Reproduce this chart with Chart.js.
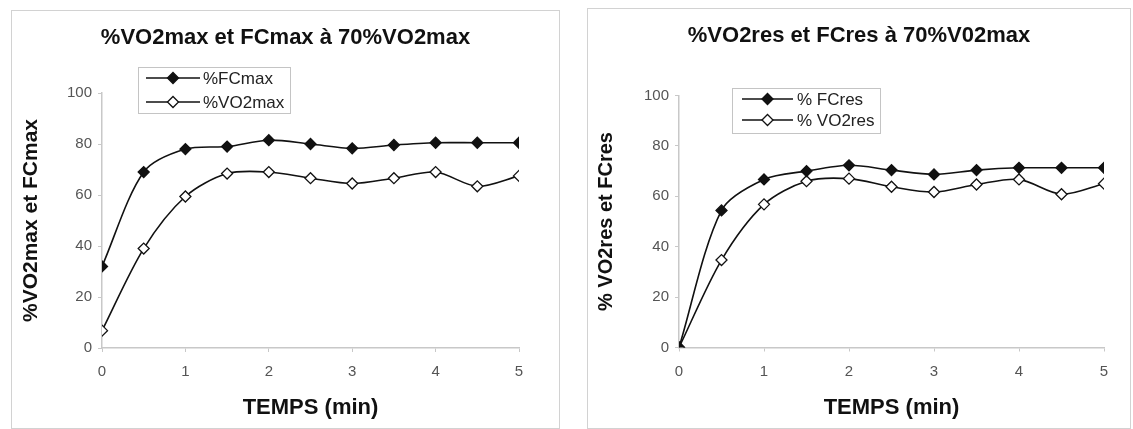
<!DOCTYPE html>
<html>
<head>
<meta charset="utf-8">
<script src="https://cdn.jsdelivr.net/npm/chart.js@4.4.0/dist/chart.umd.min.js"></script>
<style>
  body { margin: 0; background: #fff; width: 1133px; height: 429px; position: relative; overflow: hidden; }
  .frame { position: absolute; border: 1px solid #d2d2d2; box-sizing: border-box; background: #fff; }
  .frame canvas { display: block; }
</style>
</head>
<body>
<div class="frame" style="left:11px;top:10px;width:549px;height:419px"><canvas id="chartMax" width="547" height="417"></canvas></div>
<div class="frame" style="left:587px;top:8px;width:544px;height:421px"><canvas id="chartRes" width="542" height="419"></canvas></div>
<script>
// time in minutes (one point every 30 s)
const temps = [0, 0.5, 1, 1.5, 2, 2.5, 3, 3.5, 4, 4.5, 5];

// left chart: % of max
const fcMax  = [32, 69, 78, 79, 81.5, 80, 78.3, 79.6, 80.5, 80.5, 80.5];
const vo2Max = [6.8, 39, 59.4, 68.4, 69, 66.6, 64.5, 66.6, 69, 63.4, 67.5];

// right chart: % of reserve
const fcRes  = [0, 54.4, 66.7, 70, 72.3, 70.4, 68.7, 70.4, 71.3, 71.3, 71.3];
const vo2Res = [0, 34.7, 56.8, 66, 67, 63.8, 61.7, 64.7, 66.7, 60.8, 65];

const FONT = 'Arial, "Liberation Sans", sans-serif';

// legend drawn as a boxed block inside the chart, Excel style
const boxLegend = {
    id: 'boxLegend',
    afterDraw(chart, args, o) {
        const ctx = chart.ctx;
        ctx.save();
        ctx.fillStyle = '#fff';
        ctx.fillRect(o.x, o.y, o.w, o.h);
        ctx.strokeStyle = '#c4c4c4';
        ctx.lineWidth = 1;
        ctx.strokeRect(o.x + 0.5, o.y + 0.5, o.w, o.h);
        ctx.font = '17px ' + FONT;
        ctx.textBaseline = 'middle';
        chart.data.datasets.forEach((ds, i) => {
            const cy = o.y + o.rowTop + i * o.rowGap;
            ctx.strokeStyle = ds.borderColor;
            ctx.lineWidth = ds.borderWidth;
            ctx.beginPath();
            ctx.moveTo(o.x + o.lineFrom, cy);
            ctx.lineTo(o.x + o.lineTo, cy);
            ctx.stroke();
            ctx.fillStyle = ds.pointBackgroundColor;
            ctx.strokeStyle = ds.pointBorderColor;
            ctx.lineWidth = ds.pointBorderWidth;
            Chart.helpers.drawPoint(ctx, {
                pointStyle: 'rectRot', radius: ds.pointRadius, borderWidth: ds.pointBorderWidth, rotation: 0
            }, o.x + (o.lineFrom + o.lineTo) / 2, cy);
            ctx.fillStyle = '#222';
            ctx.fillText(ds.label, o.x + o.textX, cy + 1);
        });
        ctx.restore();
    }
};

function series(label, values, filled) {
    return {
        label: label,
        data: temps.map((t, i) => ({ x: t, y: values[i] })),
        borderColor: '#111',
        borderWidth: 1.6,
        tension: 0.3,
        pointStyle: 'rectRot',
        pointRadius: 5.5,
        pointBorderWidth: 1.3,
        pointBorderColor: '#111',
        pointBackgroundColor: filled ? '#111' : '#fff'
    };
}

function makeChart(id, cfg) {
    const ctx = document.getElementById(id).getContext('2d');
    return new Chart(ctx, {
        type: 'line',
        data: { datasets: cfg.datasets },
        options: {
            responsive: false,
            animation: false,
            devicePixelRatio: 1,
            layout: { padding: 0 },
            plugins: {
                legend: { display: false },
                tooltip: { enabled: false },
                title: {
                    display: true,
                    text: cfg.title,
                    color: '#111',
                    font: { family: FONT, size: 22, weight: 'bold' },
                    padding: { top: cfg.titleTop, bottom: cfg.titleBottom }
                },
                boxLegend: cfg.legend
            },
            scales: {
                x: {
                    type: 'linear',
                    min: 0,
                    max: 5,
                    afterFit: s => { s.height = cfg.xHeight; },
                    border: { color: '#c8c8c8', width: 1.5 },
                    grid: { drawOnChartArea: false, tickLength: 4, color: '#c8c8c8' },
                    ticks: { stepSize: 1, padding: 11, color: '#555', font: { family: FONT, size: 15 } },
                    title: {
                        display: true,
                        text: 'TEMPS (min)',
                        color: '#111',
                        font: { family: FONT, size: 22, weight: 'bold' },
                        padding: { top: 0, bottom: cfg.xTitlePad }
                    }
                },
                y: {
                    min: 0,
                    max: 100,
                    afterFit: s => { s.width = cfg.yWidth; },
                    border: { color: '#c8c8c8', width: 1.5 },
                    grid: { drawOnChartArea: false, tickLength: 4, color: '#c8c8c8' },
                    ticks: { stepSize: 20, padding: 6, color: '#555', font: { family: FONT, size: 15 } },
                    title: {
                        display: true,
                        text: cfg.yTitle,
                        color: '#111',
                        font: { family: FONT, size: cfg.yTitleSize, weight: 'bold' },
                        padding: { top: cfg.yTitlePad, bottom: 0 }
                    }
                },
                // empty right margin, keeps the title centred on the whole frame
                yRight: {
                    type: 'linear',
                    position: 'right',
                    afterFit: s => { s.width = cfg.padRight; },
                    border: { display: false },
                    grid: { display: false, drawTicks: false },
                    ticks: { display: false }
                }
            }
        },
        plugins: [boxLegend]
    });
}

makeChart('chartMax', {
    title: '%VO2max et FCmax à 70%VO2max',
    yTitle: '%VO2max et FCmax',
    yTitleSize: 21,
    datasets: [series('%FCmax', fcMax, true), series('%VO2max', vo2Max, false)],
    padRight: 40, xHeight: 80, yWidth: 90,
    titleTop: 13.8, titleBottom: 41.8, xTitlePad: 6.8, yTitlePad: 6.5,
    legend: { x: 126, y: 56, w: 152, h: 46, rowTop: 11, rowGap: 24, lineFrom: 8, lineTo: 62, textX: 65 }
});

makeChart('chartRes', {
    title: '%VO2res et FCres à 70%V02max',
    yTitle: '% VO2res et FCres',
    yTitleSize: 20,
    datasets: [series('% FCres', fcRes, true), series('% VO2res', vo2Res, false)],
    padRight: 26, xHeight: 80.5, yWidth: 91,
    titleTop: 13.8, titleBottom: 46.3, xTitlePad: 6.8, yTitlePad: 6,
    legend: { x: 144, y: 79, w: 148, h: 45, rowTop: 11, rowGap: 21, lineFrom: 10, lineTo: 61, textX: 65 }
});
</script>
</body>
</html>
